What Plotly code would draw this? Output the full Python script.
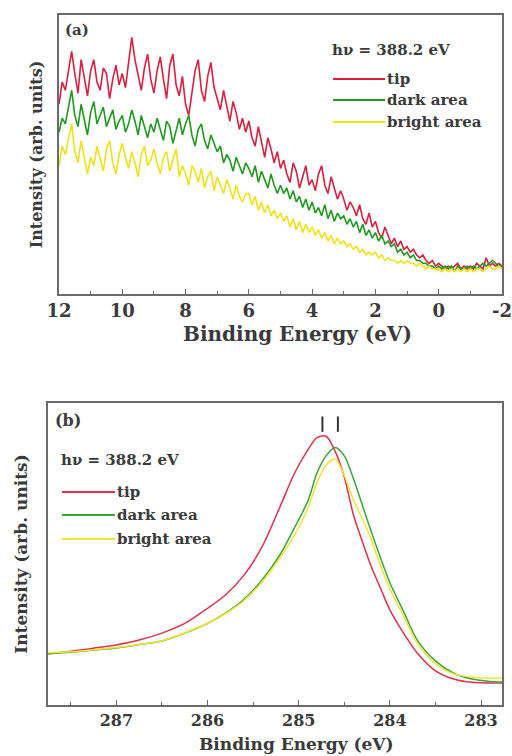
import plotly.graph_objects as go

# ---------------- Panel (a): valence band, hv = 388.2 eV ----------------
be_a = [round(12.0 - 0.1 * i, 1) for i in range(141)]
tip_a = [68, 76, 73, 80, 87, 79, 72, 84, 77, 71,
         80, 84, 76, 73, 81, 79, 70, 77, 82, 75,
         79, 74, 83, 92, 84, 78, 73, 81, 86, 77,
         72, 80, 85, 77, 70, 82, 86, 75, 71, 78,
         68, 64, 72, 80, 84, 73, 69, 78, 83, 74,
         70, 66, 73, 68, 62, 69, 65, 59, 63, 58,
         62, 56, 53, 60, 55, 49, 56, 52, 47, 51,
         45, 48, 43, 40, 47, 44, 38, 42, 46, 39,
         41, 37, 43, 46, 39, 36, 42, 38, 34, 37,
         34, 30, 33, 31, 28, 32, 27, 25, 29, 24,
         26, 22, 20, 24, 21, 18, 20, 17, 19, 16,
         17, 15, 16, 14, 13, 14, 12, 11, 12, 10,
         11, 10, 9, 10, 9, 10, 11, 9, 10, 9,
         10, 9, 11, 10, 9, 13, 10, 11, 10, 11,
         10]
dark_a = [58, 63, 61, 67, 73, 64, 60, 68, 62, 57,
          65, 69, 61, 64, 67, 60, 63, 66, 59, 62,
          64, 58, 61, 66, 62, 57, 64, 60, 56, 61,
          58, 63, 59, 55, 62, 60, 54, 59, 63, 57,
          61, 64, 57, 53, 59, 61, 55, 52, 57, 54,
          51, 53, 47, 50, 48, 44, 49, 46, 43, 47,
          45, 42, 46, 40, 44, 41, 38, 43, 39, 36,
          39, 36, 38, 34, 37, 33, 35, 31, 34, 30,
          33, 29, 31, 28, 32, 27, 30, 26, 29, 27,
          28, 25, 27, 24, 26, 22, 25, 21, 23, 20,
          22, 19, 21, 18, 19, 17, 18, 15, 16, 14,
          15, 13, 14, 12, 12, 11, 11, 10, 10, 9,
          10, 9, 10, 9, 10, 8, 10, 9, 9, 10,
          9, 10, 9, 10, 11, 10, 11, 12, 11, 10,
          10]
bright_a = [46, 53, 50, 56, 61, 51, 47, 55, 49, 43,
            49, 46, 53, 48, 44, 52, 55, 47, 43, 50,
            54, 49, 45, 51, 47, 42, 50, 53, 46, 48,
            52, 47, 43, 49, 51, 44, 48, 52, 42, 46,
            43, 39, 46, 44, 40, 45, 38, 42, 44, 37,
            42, 39, 36, 41, 38, 34, 39, 35, 33, 36,
            36, 32, 35, 30, 33, 29, 32, 28, 30, 27,
            29, 26, 28, 24, 27, 23, 26, 22, 25, 22,
            24, 21, 23, 20, 22, 19, 21, 18, 20, 18,
            19, 17, 18, 16, 17, 15, 16, 14, 15, 14,
            15, 13, 14, 12, 13, 12, 12, 11, 12, 11,
            12, 11, 11, 10, 11, 10, 9, 10, 9, 9,
            9, 8, 9, 8, 9, 8, 9, 8, 9, 8,
            9, 8, 9, 9, 8, 9, 10, 9, 9, 10,
            9]
ticks_a = [12, 10, 8, 6, 4, 2, 0, -2]
ticklabels_a = ["12", "10", "8", "6", "4", "2", "0", "-2"]

# ---------------- Panel (b): C 1s core level ----------------
be_b = [287.75, 287.5, 287.25, 287.0, 286.75, 286.5, 286.25, 286.0, 285.8, 285.6,
        285.4, 285.2, 285.05, 284.9, 284.8, 284.7, 284.6, 284.5, 284.4, 284.3,
        284.2, 284.1, 284.0, 283.85, 283.7, 283.5, 283.3, 283.1, 282.9, 282.77]
tip_b = [17, 17.8, 18.8, 19.9, 21.5, 23.8, 27, 32, 36.5, 43,
         52.5, 66, 76.5, 84.5, 88.5, 89, 84, 75.5, 63, 54,
         45.5, 38.5, 31.5, 23.8, 17.2, 11.3, 8.6, 7.5, 7.3, 7.3]
dark_b = [17, 17.5, 18.2, 18.9, 20, 21.2, 23.8, 27, 30.5, 35,
          41.5, 50, 58.5, 67.5, 76.8, 82.5, 85.3, 82.5, 75, 66,
          57, 48.5, 40.5, 31, 21.5, 14.6, 10.5, 8.6, 7.8, 7.6]
bright_b = [17.3, 17.6, 18.3, 19, 20, 21.3, 23.9, 27, 30.3, 34.6,
            40.8, 49, 56, 65, 73.5, 79.5, 81.5, 76, 68, 61.5,
            54.5, 46, 38.5, 29.5, 20.5, 13.7, 10.3, 9.2, 8.9, 8.9]
peak_marks_x = [284.74, 284.57]
peak_marks_y = [93, 93]

series_names = ["tip", "dark area", "bright area"]
colors_a = ["#dc1f3f", "#1f9a1f", "#f0e21a"]
colors_b = ["#e2304e", "#3aa63a", "#f2e432"]
hv_label = "h\u03bd = 388.2 eV"
x_title = "Binding Energy (eV)"
y_title = "Intensity (arb. units)"

FONT = "DejaVu Serif"
TXT = "#3a3a3a"
AX = "#6a6a6a"

fig = go.Figure()
for ys, c, n in zip([tip_a, dark_a, bright_a], colors_a, series_names):
    fig.add_trace(go.Scatter(x=be_a, y=ys, mode="lines", name=n,
                             line=dict(color=c, width=1.6), xaxis="x", yaxis="y",
                             showlegend=False))
for ys, c, n in zip([tip_b, dark_b, bright_b], colors_b, series_names):
    fig.add_trace(go.Scatter(x=be_b, y=ys, mode="lines", name=n,
                             line=dict(color=c, width=1.5, shape="spline", smoothing=0.8),
                             xaxis="x2", yaxis="y2", showlegend=False))
fig.add_trace(go.Scatter(x=peak_marks_x, y=peak_marks_y, mode="markers",
                         marker=dict(symbol="line-ns", size=11,
                                     line=dict(color="#333333", width=2)),
                         xaxis="x2", yaxis="y2", showlegend=False))

W, H = 512, 756
xa_dom = [59 / W, 502 / W]
ya_dom = [1 - 294 / H, 1 - 15 / H]
xb_dom = [48 / W, 502 / W]
yb_dom = [1 - 705 / H, 1 - 403 / H]

common_ax = dict(showline=True, linecolor=AX, linewidth=1.6, mirror=True,
                 showgrid=False, zeroline=False, automargin=False)

fig.update_layout(
    width=W, height=H, margin=dict(l=0, r=0, t=0, b=0),
    paper_bgcolor="white", plot_bgcolor="white",
    font=dict(family=FONT, color=TXT),
    xaxis=dict(domain=xa_dom, anchor="y", range=[12.0001, -2.0001],
               tickvals=ticks_a, ticktext=ticklabels_a, ticklabeloverflow="allow",
               ticks="inside", ticklen=5, tickcolor=AX, tickwidth=1.3,
               minor=dict(dtick=1, ticks="inside", ticklen=3, tickcolor=AX),
               tickfont=dict(size=18, family=FONT, color=TXT, weight="bold"),
               **common_ax),
    yaxis=dict(domain=ya_dom, anchor="x", range=[0, 100], showticklabels=False, ticks="",
               title=dict(text="<b>" + y_title + "</b>", font=dict(size=16, family=FONT, color=TXT),
                          standoff=11),
               **common_ax),
    xaxis2=dict(domain=xb_dom, anchor="y2", range=[287.75, 282.77], dtick=1, tick0=283,
                ticks="inside", ticklen=5, tickcolor=AX, tickwidth=1.3,
                minor=dict(dtick=0.5, ticks="inside", ticklen=3, tickcolor=AX),
                tickfont=dict(size=16, family=FONT, color=TXT, weight="bold"),
                **common_ax),
    yaxis2=dict(domain=yb_dom, anchor="x2", range=[0, 100], showticklabels=False, ticks="",
                title=dict(text="<b>" + y_title + "</b>", font=dict(size=17, family=FONT, color=TXT),
                           standoff=14),
                **common_ax),
)

ann = []
shapes = []
# x-axis titles (offset to the right as in the original)
ann.append(dict(text="<b>" + x_title + "</b>", xref="paper", yref="paper",
                x=297 / W, y=1 - 334 / H, xanchor="center", yanchor="middle", showarrow=False,
                font=dict(size=20, family=FONT, color=TXT)))
ann.append(dict(text="<b>" + x_title + "</b>", xref="paper", yref="paper",
                x=296 / W, y=1 - 744 / H, xanchor="center", yanchor="middle", showarrow=False,
                font=dict(size=17, family=FONT, color=TXT)))
# panel labels
ann.append(dict(text="<b>(a)</b>", xref="x domain", yref="y domain", x=0.008, y=0.985,
                xanchor="left", yanchor="top", showarrow=False, font=dict(size=15, family=FONT, color=TXT)))
ann.append(dict(text="<b>(b)</b>", xref="x2 domain", yref="y2 domain", x=0.012, y=0.98,
                xanchor="left", yanchor="top", showarrow=False, font=dict(size=16, family=FONT, color=TXT)))


def legend_block(xd, yd, x0, x1, y_hv, ys, colors, fs, dx):
    ann.append(dict(text="<b>" + hv_label + "</b>", xref=xd, yref=yd, x=x0 - dx, y=y_hv,
                    xanchor="left", yanchor="middle", showarrow=False,
                    font=dict(size=fs, family=FONT, color=TXT)))
    for yy, c, n in zip(ys, colors, series_names):
        shapes.append(dict(type="line", xref=xd, yref=yd, x0=x0, x1=x1, y0=yy, y1=yy,
                           line=dict(color=c, width=2)))
        ann.append(dict(text="<b>" + n + "</b>", xref=xd, yref=yd, x=x1, y=yy,
                        xanchor="left", yanchor="middle", showarrow=False,
                        font=dict(size=fs, family=FONT, color=TXT)))


# panel a legend (pixel-derived domain fractions)
legend_block("x domain", "y domain", (333 - 59) / 443, (385 - 59) / 443,
             (294 - 50) / 279, [(294 - 79) / 279, (294 - 100) / 279, (294 - 122) / 279],
             colors_a, 15, 3 / 443)
legend_block("x2 domain", "y2 domain", (62 - 48) / 454, (115 - 48) / 454,
             (705 - 460) / 302, [(705 - 492) / 302, (705 - 515) / 302, (705 - 539) / 302],
             colors_b, 15, 3 / 454)

fig.update_layout(annotations=ann, shapes=shapes)
fig.write_html("out.html")
